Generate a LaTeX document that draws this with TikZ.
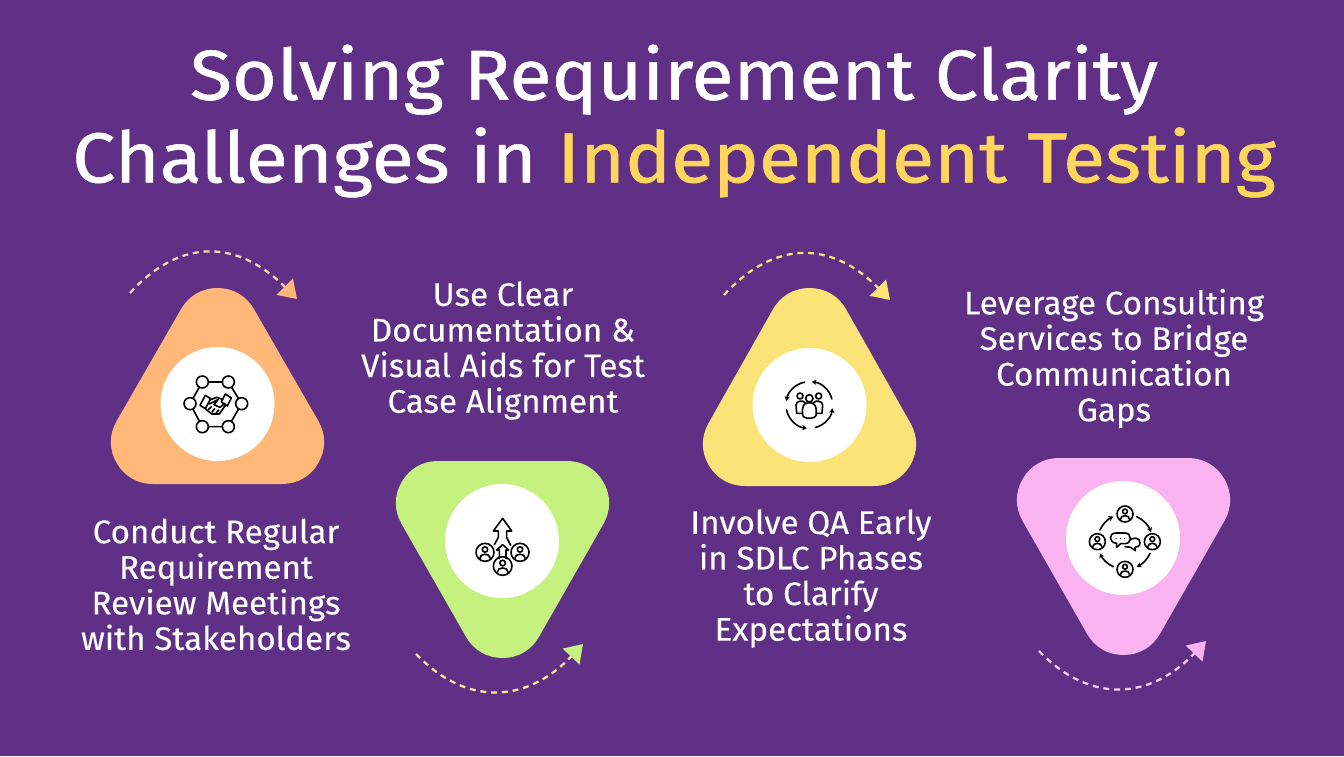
\documentclass[tikz,border=0pt]{standalone}
\usepackage{fontspec}
\setmainfont{Fira Sans}
\newfontfamily\ttlfont[FakeStretch=1.09,FakeBold=0.8]{Fira Sans}
\newfontfamily\lblfont[FakeStretch=1.015,FakeBold=0.2]{Fira Sans}
\usetikzlibrary{arrows.meta}
\definecolor{bg}{HTML}{602F86}
\definecolor{orangeT}{HTML}{FFB877}
\definecolor{greenT}{HTML}{C5F27E}
\definecolor{yellowT}{HTML}{FBE377}
\definecolor{pinkT}{HTML}{F8B3F0}
\definecolor{titleY}{HTML}{FFD65C}
\tikzset{
  blob/.style={line width=63pt,line join=round,fill=#1,draw=#1},
  disc/.style={circle,fill=white,draw=none,minimum size=85.5pt,inner sep=0pt},
  ttl/.style={text=white,align=center,font=\ttlfont\fontsize{53}{62}\selectfont,inner sep=0pt},
  lbl/.style={text=white,align=center,font=\lblfont\fontsize{24.5}{26.7}\selectfont,inner sep=0pt},
  swoop/.style n args={2}{line width=1.7pt,draw=#2,dash pattern=on 4.5pt off 3.6pt,
    -{Triangle[length=13pt,width=17pt,fill=#1,color=#1]}},
  ico/.style={line width=1.2pt,draw=black,line cap=round,line join=round},
  personring/.pic={
    \draw[ico] (0,0) circle (1);
    \draw[ico] (0,-0.32) circle (0.3);
    \draw[ico] (-0.58,0.68) .. controls (-0.6,0.05) and (0.6,0.05) .. (0.58,0.68);
  }
}
\begin{document}
\begin{tikzpicture}[x=0.75pt,y=-0.75pt]
\useasboundingbox (0,0) rectangle (1344,756);
\fill[bg] (0,0) rectangle (1344,756);
% title
\node[ttl] (title) at (674,121) {Solving Requirement Clarity\\Challenges in \textcolor{titleY}{Independent Testing}};
% blobs
\path[blob=orangeT] (153,442) -- (282,442) -- (217.5,330) -- cycle;
\path[blob=greenT] (438,503) -- (567,503) -- (502.5,616) -- cycle;
\path[blob=yellowT] (745,444) -- (874,444) -- (809.5,330) -- cycle;
\path[blob=pinkT] (1059,500) -- (1188,500) -- (1123.5,613) -- cycle;
% discs
\node[disc] (d1) at (217.5,404) {};
\node[disc] (d2) at (502,541) {};
\node[disc] (d3) at (809.5,405) {};
\node[disc] (d4) at (1123,538) {};
% labels
\node[lbl] (l1) at (216,584.5) {Conduct Regular\\Requirement\\Review Meetings\\with Stakeholders};
\node[lbl] (l2) at (503,350.5) {Use Clear\\Documentation \&\\Visual Aids for Test\\Case Alignment};
\node[lbl] (l3) at (811,578.5) {Involve QA Early\\in SDLC Phases\\to Clarify\\Expectations};
\node[lbl] (l4) at (1114,358.5) {Leverage Consulting\\Services to Bridge\\Communication\\Gaps};
% swoops
\coordinate (a1s) at (130,293); \coordinate (a1e) at (297,299);
\coordinate (a2s) at (416,654); \coordinate (a2e) at (583,644);
\coordinate (a3s) at (724,295); \coordinate (a3e) at (890,300);
\coordinate (a4s) at (1039,651); \coordinate (a4e) at (1206,641);
\draw[swoop={orangeT}{orangeT!60!white}] (a1s) .. controls (182,236) and (239,241) .. (a1e);
\draw[swoop={greenT}{yellowT!80!white}] (a2s) .. controls (468,708) and (528,702) .. (a2e);
\draw[swoop={yellowT}{yellowT}] (a3s) .. controls (776,238) and (833,242) .. (a3e);
\draw[swoop={pinkT}{pinkT!70!white}] (a4s) .. controls (1091,705) and (1151,699) .. (a4e);
% icon 1: handshake
\begin{scope}[shift={(170,370)},x=0.25pt,y=-0.25pt]
  \draw[ico] (97,36) -- (175,36) -- (215,101) -- (175,170) -- (97,170) -- (60,101) -- cycle;
  \foreach \p in {(97,36),(175,36),(60,101),(215,101),(97,170),(175,170)}
    \draw[ico,fill=white] \p circle (18);
  \draw[ico,fill=white] (106,76) -- (122,86) -- (106,116) -- (90,106) -- cycle;
  \draw[ico,fill=white] (166,72) -- (184,84) -- (172,108) -- (154,96) -- cycle;
  \draw[ico] (120,90) -- (140,82) -- (158,88);
  \draw[ico] (118,102) -- (130,96) -- (145,88) -- (132,104) -- (150,112) -- (165,100);
  \draw[ico] (106,116) -- (125,132) -- (148,132) -- (166,106);
  \draw[ico] (116,118) -- (124,110) (126,126) -- (134,116) (138,130) -- (146,120);
\end{scope}
% icon 2: upward arrow and people
\begin{scope}[shift={(460,510)},x=0.25pt,y=-0.25pt]
  \draw[ico] (115,82) -- (115,63) -- (100,63) -- (128,25) -- (155,63) -- (140,63) -- (140,82) -- (152,106);
  \draw[ico] (115,82) -- (103,104);
  \draw[ico] (118,146) -- (118,120) -- (110,120) -- (128,104) -- (146,120) -- (138,120) -- (138,146);
  \pic[scale=27] at (75,127) {personring};
  \pic[scale=27] at (180,127) {personring};
  \pic[scale=28] at (128,168) {personring};
\end{scope}
% icon 3: team in a cycle
\begin{scope}[shift={(750,350)},x=0.25pt,y=-0.25pt]
  \foreach \a/\b in {-15/-84,75/8,168/96,-102/-170}
    \draw[ico,-{Stealth[length=3.5pt,width=4pt]}] ([shift={(\a:70)}]178,165) arc (\a:\b:70);
  \draw[ico] (150,138) circle (9) (206,138) circle (9) (178,145) circle (11);
  \draw[ico] (160,190) -- (140,190) -- (138,165) .. controls (138,152) and (160,150) .. (165,158);
  \draw[ico] (196,190) -- (216,190) -- (218,165) .. controls (218,152) and (196,150) .. (191,158);
  \draw[ico,fill=white] (158,195) .. controls (155,170) and (160,158) .. (178,158)
     .. controls (196,158) and (201,170) .. (198,195) .. controls (198,208) and (158,208) .. (158,195) -- cycle;
\end{scope}
% icon 4: people around speech bubbles
\begin{scope}[shift={(1060,490)},x=0.25pt,y=-0.25pt]
  \foreach \a/\b in {-65/-20,25/65,115/155,205/245}
    \draw[ico,-{Stealth[length=3.5pt,width=4pt]}] ([shift={(\a:83)}]195,155) arc (\a:\b:83);
  \foreach \p in {(195,72),(277,155),(195,238),(112,155)}
    \pic[scale=24] at \p {personring};
  \draw[ico] (195,160) .. controls (225,135) and (240,145) .. (240,158) .. controls (240,168) and (232,172) .. (225,172) -- (226,182) -- (212,172) -- (195,170);
  \draw[ico,fill=white] (168,129) -- (195,129) .. controls (216,129) and (216,161) .. (195,161) -- (182,161) -- (170,172) -- (170,160) .. controls (145,158) and (145,129) .. (168,129) -- cycle;
  \fill (168,145) circle (2) (181,145) circle (2) (194,145) circle (2);
\end{scope}
\end{tikzpicture}
\end{document}
